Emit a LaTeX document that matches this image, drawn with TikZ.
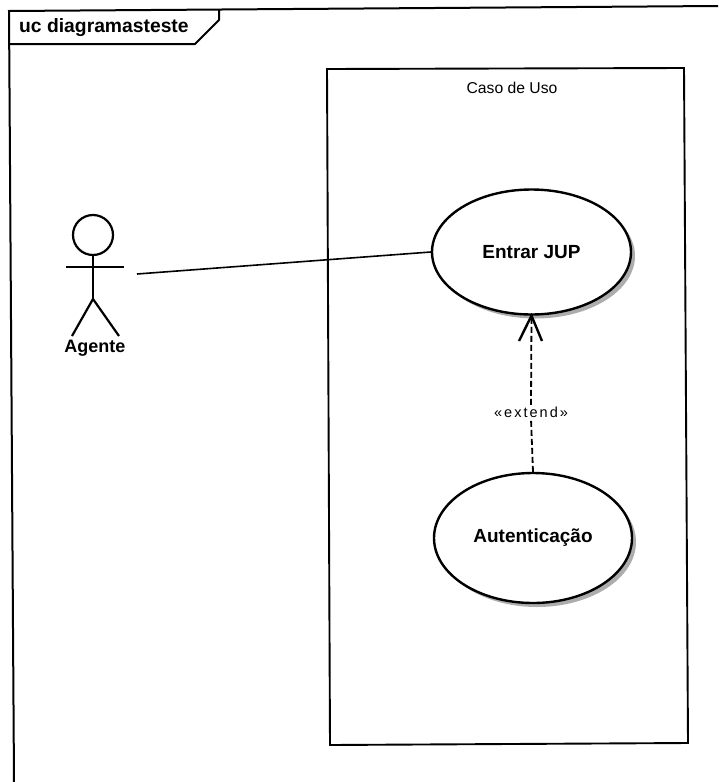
\documentclass[tikz,border=0pt]{standalone}
\usepackage{fontspec}
\setmainfont{Liberation Sans}
\usetikzlibrary{shapes.geometric}
\tikzset{
  x=1pt,y=-1pt,
  frameline/.style={black,line width=2pt},
  usecase/.style={ellipse,draw=black,line width=2.4pt,fill=white,inner sep=0pt,font=\fontsize{19}{21}\selectfont\bfseries},
  ucshadow/.style={ellipse,fill=black!32,inner sep=0pt},
  figline/.style={black,line width=2.2pt},
  plain/.style={inner sep=0pt,font=\fontsize{15.7}{18}\selectfont},
  boldlabel/.style={inner sep=0pt,font=\fontsize{18}{21}\selectfont\bfseries},
  titlelabel/.style={inner sep=0pt,font=\fontsize{19.3}{21}\selectfont\bfseries},
  dashline/.style={black,line width=1.8pt,dash pattern=on 6pt off 3pt}
}
\begin{document}
\begin{tikzpicture}
\useasboundingbox (0,0) rectangle (718,782);
\fill[white] (0,0) rectangle (718,782);
% frame
\draw[frameline] (14,782) -- (9,11) -- (718,6);
\draw[frameline] (9,44) -- (195,44) -- (219,20) -- (219,9);
\node[titlelabel,anchor=west] (title) at (19,28) {uc diagramasteste};
% system boundary
\draw[black,line width=1.9pt] (327,69) -- (684,68) -- (688,743) -- (330,745) -- cycle;
\node[plain] (syslabel) at (512,88) {Caso de Uso};
% use cases
\node[ucshadow,minimum width=199pt,minimum height=125pt] at (535.5,256) {};
\node[ucshadow,minimum width=198pt,minimum height=130pt] at (537,542) {};
\node[usecase,minimum width=199pt,minimum height=125pt] (entrar) at (531.5,252) {Entrar JUP};
\node[usecase,minimum width=198pt,minimum height=130pt] (auth) at (533,538) {Autenticação};
% actor
\node[circle,draw=black,line width=2.2pt,minimum size=40pt,inner sep=0pt] (head) at (93,235) {};
\coordinate (armL) at (66,267);
\coordinate (armR) at (124,267);
\coordinate (hip) at (93,299);
\coordinate (footL) at (72,336);
\coordinate (footR) at (119,336);
\draw[figline] (head.south) -- (hip);
\draw[figline] (armL) -- (armR);
\draw[figline] (footL) -- (hip) -- (footR);
\node[boldlabel] (agent) at (95,348) {Agente};
% connectors
\coordinate (assocStart) at (137,274);
\draw[black,line width=1.6pt] (assocStart) -- (entrar.west);
\node[inner sep=1.5pt,font=\fontsize{14.5}{17}\selectfont\addfontfeature{LetterSpace=14}] (ext) at (531,412) {«extend»};
\draw[dashline] (auth.north) -- (ext.south);
\draw[dashline] (ext.north) -- (entrar.south);
\coordinate (tipL) at (519,341);
\coordinate (tipR) at (542,341);
\draw[black,line width=2.4pt] (tipL) -- (entrar.south) -- (tipR);
\end{tikzpicture}
\end{document}
